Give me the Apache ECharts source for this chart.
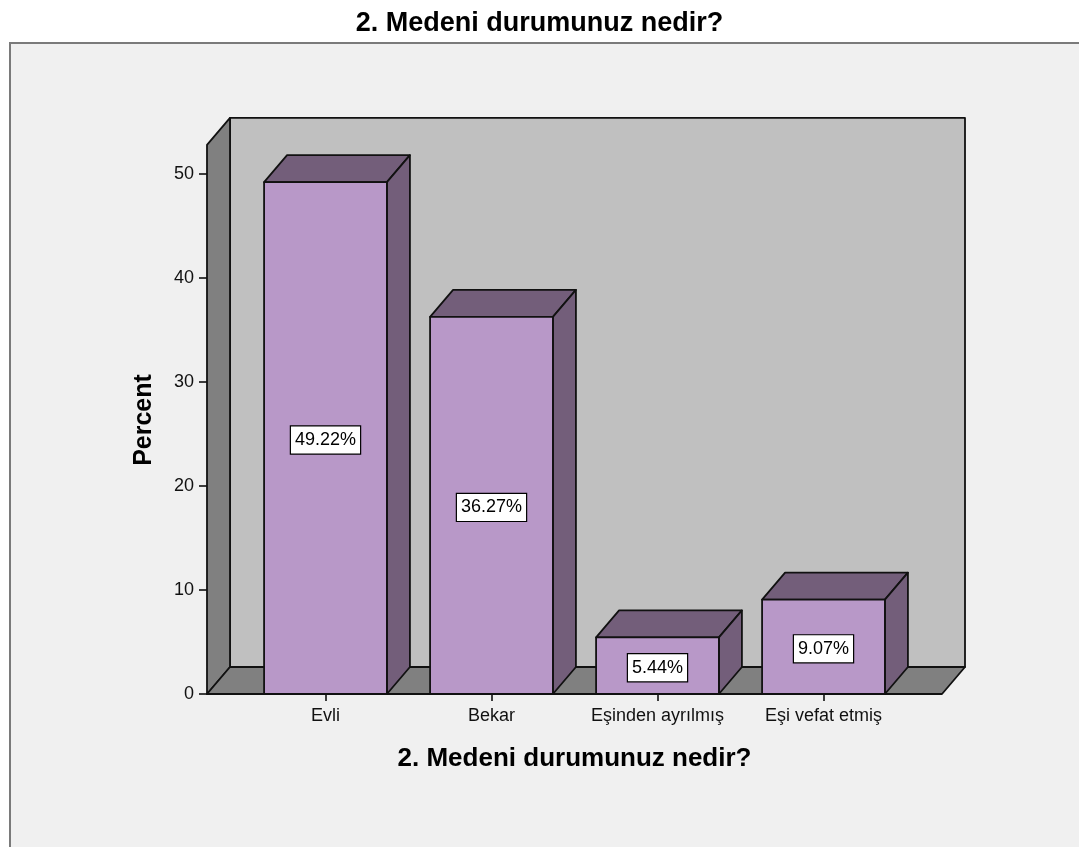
<!DOCTYPE html>
<html>
<head>
<meta charset="utf-8">
<title>2. Medeni durumunuz nedir?</title>
<script src="https://cdn.jsdelivr.net/npm/echarts@6/dist/echarts.min.js"></script>
<style>
  html, body { margin: 0; padding: 0; background: #ffffff; }
  #chart { width: 1079px; height: 847px; }
</style>
</head>
<body>
<div id="chart"></div>
<script>
// Marital status distribution (percent of respondents)
const categories = ['Evli', 'Bekar', 'Eşinden ayrılmış', 'Eşi vefat etmiş'];
const percentages = [49.22, 36.27, 5.44, 9.07];

// Value axis settings
const AXIS_MIN = 0;
const AXIS_MAX = 50;
const TICK_STEP = 10;
const WALL_TOP = 52.8;   // height of the 3D box walls, in axis units

// 3D look: depth offset of the box and bars, in pixels
const DX = 23;
const DY = -27;
const SIDE_PAD = 35.5;   // floor extends this far beyond the first/last band

const FONT = 'Arial, "Liberation Sans", sans-serif';
const BAR_FRONT = '#b898c8';
const BAR_SHADE = '#735e7a';
const WALL_BACK = '#c0c0c0';
const WALL_SIDE = '#808080';
const EDGE = '#111111';

const chart = echarts.init(document.getElementById('chart'), null, { renderer: 'canvas' });

function poly(points, fill) {
  return {
    type: 'polygon',
    shape: { points: points },
    style: { fill: fill, stroke: EDGE, lineWidth: 1.8, lineJoin: 'round' }
  };
}

function renderWalls(params, api) {
  const cs = params.coordSys;
  const fl = cs.x - SIDE_PAD;
  const fr = cs.x + cs.width + SIDE_PAD;
  const fb = api.coord([0, 0])[1];
  const ft = api.coord([0, WALL_TOP])[1];
  return {
    type: 'group',
    children: [
      poly([[fl + DX, ft + DY], [fr + DX, ft + DY], [fr + DX, fb + DY], [fl + DX, fb + DY]], WALL_BACK),
      poly([[fl, fb], [fl, ft], [fl + DX, ft + DY], [fl + DX, fb + DY]], WALL_SIDE),
      poly([[fl, fb], [fr, fb], [fr + DX, fb + DY], [fl + DX, fb + DY]], WALL_SIDE)
    ]
  };
}

function renderBar(params, api) {
  const idx = api.value(0);
  const val = api.value(1);
  const top = api.coord([idx, val]);
  const base = api.coord([idx, 0]);
  const w = api.size([1, 0])[0] * 0.74;
  const x0 = top[0] - w / 2;
  const x1 = top[0] + w / 2;
  const y1 = top[1];
  const yb = base[1];
  return {
    type: 'group',
    children: [
      poly([[x0, y1], [x1, y1], [x1 + DX, y1 + DY], [x0 + DX, y1 + DY]], BAR_SHADE),
      poly([[x1, y1], [x1, yb], [x1 + DX, yb + DY], [x1 + DX, y1 + DY]], BAR_SHADE),
      poly([[x0, y1], [x1, y1], [x1, yb], [x0, yb]], BAR_FRONT),
      {
        type: 'text',
        z2: 10,
        style: {
          text: val.toFixed(2) + '%',
          x: top[0],
          y: (y1 + yb) / 2 + 2,
          align: 'center',
          verticalAlign: 'middle',
          fill: '#000',
          font: '18px ' + FONT,
          backgroundColor: '#ffffff',
          borderColor: '#000000',
          borderWidth: 1.2,
          padding: [5, 4, 4, 4]
        }
      }
    ]
  };
}

chart.setOption({
  backgroundColor: '#ffffff',
  animation: false,
  title: {
    text: '2. Medeni durumunuz nedir?',
    left: 'center',
    top: 5,
    textStyle: { fontFamily: FONT, fontSize: 27, fontWeight: 'bold', color: '#000' }
  },
  graphic: [{
    type: 'rect',
    z: 0,
    shape: { x: 10, y: 43, width: 1200, height: 900 },
    style: { fill: '#f0f0f0', stroke: '#7a7a7a', lineWidth: 2 }
  }],
  grid: { left: 242.5, right: 172.5, top: 174, bottom: 153 },
  xAxis: {
    type: 'category',
    data: categories,
    name: '2. Medeni durumunuz nedir?',
    nameLocation: 'middle',
    nameGap: 52,
    nameTextStyle: { fontFamily: FONT, fontSize: 26, fontWeight: 'bold', color: '#000' },
    axisLine: { show: false },
    axisTick: { show: true, interval: 0, alignWithLabel: true, length: 7, lineStyle: { color: '#000', width: 1.5 } },
    axisLabel: { interval: 0, hideOverlap: false, margin: 13, fontFamily: FONT, fontSize: 18, color: '#111' },
    splitLine: { show: false }
  },
  yAxis: {
    type: 'value',
    min: AXIS_MIN,
    max: AXIS_MAX,
    interval: TICK_STEP,
    offset: SIDE_PAD,
    name: 'Percent',
    nameLocation: 'middle',
    nameGap: 50,
    nameTextStyle: { fontFamily: FONT, fontSize: 25, fontWeight: 'bold', color: '#000', padding: [0, 0, 0, 28] },
    axisLine: { show: false },
    axisTick: { show: true, length: 8, lineStyle: { color: '#000', width: 1.5 } },
    axisLabel: { margin: 13, fontFamily: FONT, fontSize: 18, color: '#111' },
    splitLine: { show: false }
  },
  series: [
    {
      type: 'custom',
      name: 'walls',
      z: 1,
      silent: true,
      renderItem: renderWalls,
      data: [[0, WALL_TOP]]
    },
    {
      type: 'custom',
      name: 'Percent',
      z: 3,
      renderItem: renderBar,
      encode: { x: 0, y: 1 },
      data: percentages.map((v, i) => [i, v])
    }
  ]
});
</script>
</body>
</html>
